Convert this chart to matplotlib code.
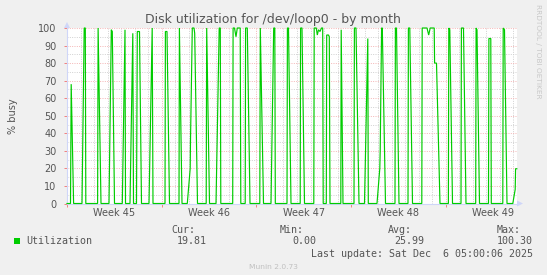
import numpy as np
import matplotlib
matplotlib.use("Agg")
import matplotlib.pyplot as plt
from matplotlib.patches import Polygon, Rectangle

# ---------------- data (days since Mon 3 Nov 2025 00:00) ----------------
t_days = [0.0,
    0.259, 0.310, 0.488,
    1.109, 1.271, 1.353, 1.390,
    2.262, 2.299, 2.513,
    3.104, 3.274, 3.348, 3.511,
    4.087, 4.287, 4.324,
    4.656, 4.863, 4.915, 5.137, 5.196, 5.358, 5.506,
    6.061, 6.297, 6.356,
    7.243, 7.273, 7.391, 7.576,
    8.278, 8.307, 8.500,
    8.891, 9.106, 9.128, 9.261, 9.387, 9.438, 9.645,
    10.288, 10.325, 10.532,
    11.013, 11.249, 11.330, 11.367,
    12.247, 12.276, 12.380, 12.491, 12.587, 12.801, 12.846,
    13.171, 13.200, 13.326, 13.526,
    14.250, 14.287, 14.523,
    15.078, 15.277, 15.359, 15.396,
    16.260, 16.290, 16.371, 16.556,
    17.236, 17.265, 17.369, 17.554,
    18.241, 18.271, 18.426, 18.500, 18.589, 18.699, 18.810, 18.899, 18.936,
    19.165, 19.194, 19.328, 19.387, 19.438,
    20.237, 20.266, 20.399,
    21.212, 21.242, 21.360, 21.582,
    21.988, 22.232, 22.269,
    22.912, 23.119, 23.149, 23.252, 23.304, 23.540,
    24.242, 24.272, 24.353, 24.538,
    25.203, 25.233, 25.336, 25.536,
    26.223, 26.253, 26.608, 26.733, 26.844, 27.140, 27.169, 27.310, 27.568,
    28.189, 28.219, 28.293, 28.493,
    29.121, 29.150, 29.305, 29.490,
    30.207, 30.236, 30.303, 30.488,
    31.153, 31.183, 31.323, 31.360,
    32.210, 32.240, 32.336, 32.521,
    32.949, 33.126, 33.156, 33.245]
busy = [0,
    0, 68, 0,
    0, 100, 100, 0,
    0, 100, 0,
    0, 99, 98, 0,
    0, 99, 0,
    0, 97, 0, 0, 98, 98, 0,
    0, 100, 0,
    0, 98, 98, 0,
    0, 100, 0,
    0, 20, 36, 100, 100, 97, 0,
    0, 100, 0,
    0, 100, 100, 0,
    0, 100, 100, 95, 100, 100, 0,
    0, 100, 100, 0,
    0, 100, 0,
    0, 100, 100, 0,
    0, 100, 100, 0,
    0, 100, 100, 0,
    0, 100, 100, 96, 99, 98, 100, 100, 0,
    0, 96, 96, 95, 0,
    0, 99, 0,
    0, 100, 100, 0,
    0, 94, 0,
    0, 20, 30, 100, 100, 0,
    0, 100, 100, 0,
    0, 100, 100, 0,
    0, 100, 100, 96, 100, 100, 80, 80, 0,
    0, 100, 99, 0,
    0, 100, 100, 0,
    0, 100, 99, 0,
    0, 94, 94, 0,
    0, 100, 99, 0,
    0, 8, 19.81, 19.81]

x_end = 33.26
week_starts = [0, 7, 14, 21, 28]
week_centers = [3.5, 10.5, 17.5, 24.5, 31.5]
week_labels = ["Week 45", "Week 46", "Week 47", "Week 48", "Week 49"]
y_major = list(range(0, 101, 10))
stats_names = ["Cur:", "Min:", "Avg:", "Max:"]
stats_values = ["19.81", "0.00", "25.99", "100.30"]
series_name = "Utilization"
last_update = "Last update: Sat Dec  6 05:00:06 2025"

# ---------------- style ----------------
W, H = 547, 275
BACK = "#F0F0F0"
FONT = "#555555"
AXIS = "#CFD6F8"
GRID = "#D0D0D0"
MGRID = "#F4B4B4"
LINE = "#00CC00"

fig = plt.figure(figsize=(W / 100, H / 100), dpi=100, facecolor=BACK)
L, R, T, B = 67, 517, 28, 203.5
ax = fig.add_axes([L / W, 1 - B / H, (R - L) / W, (B - T) / H])
ax.set_facecolor("white")

ax.plot(t_days, busy, color=LINE, lw=0.85, clip_on=False, zorder=5,
        solid_joinstyle="miter")

ax.set_xlim(0, x_end)
ax.set_ylim(0, 100)

ax.set_xticks(week_starts)
ax.set_xticks(np.arange(0, 34, 1), minor=True)
ax.set_xticklabels([])
ax.set_yticks(y_major)
ax.set_yticks(np.arange(0, 101, 5), minor=True)
ax.set_yticklabels([str(v) for v in y_major], fontsize=7, color=FONT,
                   family="DejaVu Sans")

dot = (0, (1, 1.4))
ax.grid(True, which="major", color=MGRID, lw=0.7, linestyle=dot)
ax.grid(True, which="minor", color=GRID, lw=0.7, linestyle=dot)
ax.set_axisbelow(True)

ax.tick_params(which="major", direction="out", length=2.5, width=0.7,
               color="#F08080", pad=5)
ax.tick_params(axis="x", which="minor", length=0)
ax.tick_params(axis="y", which="minor", length=0)

for s in ["top", "right"]:
    ax.spines[s].set_visible(False)
for s in ["left", "bottom"]:
    ax.spines[s].set_color(AXIS)
    ax.spines[s].set_linewidth(0.8)

# arrows
ax_w = R - L
ax_h = B - T
ax.add_patch(Polygon([[1.0, -3 / ax_h], [1.0, 3 / ax_h], [(ax_w + 6) / ax_w, 0]],
                     closed=True, transform=ax.transAxes, clip_on=False,
                     color=AXIS, zorder=6, lw=0))
ax.plot([1.0, 1.0 + 2 / ax_w], [0, 0], transform=ax.transAxes, color=AXIS,
        lw=0.8, clip_on=False)
ax.add_patch(Polygon([[-3 / ax_w, 1.0], [3 / ax_w, 1.0], [0, (ax_h + 6) / ax_h]],
                     closed=True, transform=ax.transAxes, clip_on=False,
                     color=AXIS, zorder=6, lw=0))

# week labels
for c, lab in zip(week_centers, week_labels):
    ax.text(c, -9.5 / ax_h, lab, transform=ax.get_xaxis_transform(),
            ha="center", va="center", fontsize=7, color=FONT,
            family="DejaVu Sans")

# title and side texts
fig.text(273 / W, 1 - 19 / H, "Disk utilization for /dev/loop0 - by month",
         ha="center", va="center", fontsize=9, color=FONT, family="DejaVu Sans")
fig.text(13 / W, 1 - 116 / H, "% busy", rotation=90, ha="center", va="center",
         fontsize=7, color=FONT, family="DejaVu Sans")
fig.text(538 / W, 1 - 4 / H, "RRDTOOL / TOBI OETIKER", rotation=270,
         ha="center", va="top", fontsize=5.3, color="#C8C8C8",
         family="DejaVu Sans")

# legend
mono = "DejaVu Sans Mono"
fig.patches.append(Rectangle((14 / W, 1 - 244 / H), 6 / W, 6 / H,
                             transform=fig.transFigure, color=LINE, lw=0))
fig.text(26 / W, 1 - 241.4 / H, series_name, ha="left", va="center",
         fontsize=7.2, color=FONT, family=mono)
name_x = [171, 280, 388, 497]
val_x = [177, 292.4, 394.3, 497.2]
for nx, vx, n, v in zip(name_x, val_x, stats_names, stats_values):
    fig.text(nx / W, 1 - 230 / H, n, ha="left", va="center", fontsize=7.2,
             color=FONT, family=mono)
    fig.text(vx / W, 1 - 241.4 / H, v, ha="left", va="center", fontsize=7.2,
             color=FONT, family=mono)
fig.text(532.8 / W, 1 - 254.3 / H, last_update, ha="right", va="center",
         fontsize=7.2, color=FONT, family=mono)
fig.text(273 / W, 1 - 267.2 / H, "Munin 2.0.73", ha="center", va="center",
         fontsize=5.4, color="#C0C0C0", family="DejaVu Sans")

fig.savefig("out.png", dpi=100, facecolor=BACK)
